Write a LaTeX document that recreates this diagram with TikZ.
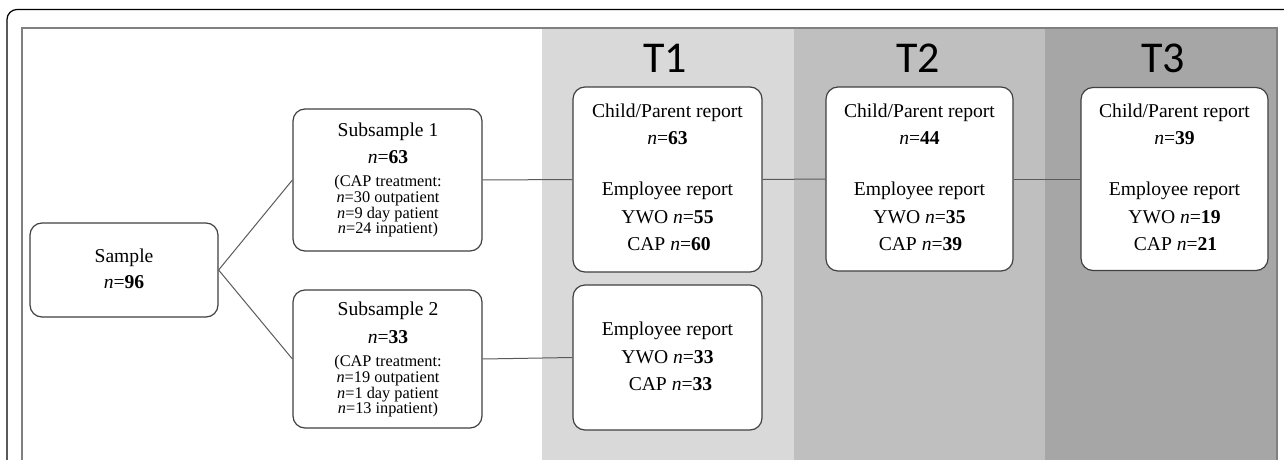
\documentclass[tikz,border=0pt]{standalone}
\usepackage{fontspec}
\setmainfont{Liberation Serif}
\newfontfamily\calib{Carlito}
\definecolor{bandA}{HTML}{D9D9D9}
\definecolor{bandB}{HTML}{BFBFBF}
\definecolor{bandC}{HTML}{A6A6A6}
\definecolor{boxline}{HTML}{404040}
\definecolor{connline}{HTML}{5A5A5A}
\tikzset{
  box/.style={draw=boxline, line width=1.2pt, rounded corners=12pt, fill=white, inner sep=0pt},
  conn/.style={draw=connline, line width=1pt},
  big/.style={font=\fontsize{19.6}{24}\selectfont, anchor=base, inner sep=0pt},
  small/.style={font=\fontsize{16.3}{18}\selectfont, anchor=base, inner sep=0pt},
  tlabel/.style={font=\calib\fontsize{44}{50}\selectfont, anchor=base, inner sep=0pt},
}
\begin{document}
\begin{tikzpicture}[x=1pt,y=-1pt]
\useasboundingbox (0,0) rectangle (1284,460);
\clip (0,0) rectangle (1284,460);
% outer frame
\draw[black, line width=1.2pt, rounded corners=10pt] (7,480) -- (7,9.5) -- (1300,9.5);
% bands
\fill[bandA] (542,28) rectangle (794,470);
\fill[bandB] (794,28) rectangle (1045,470);
\fill[bandC] (1045,28) rectangle (1277,470);
% inner frame
\draw[draw=gray, line width=1.4pt] (22,480) -- (22,28) -- (1277,28) -- (1277,480);
% time labels
\node[tlabel] (lt1) at (665,73) {T1};
\node[tlabel] (lt2) at (918,73) {T2};
\node[tlabel] (lt3) at (1163,73) {T3};
% boxes
\node[box, minimum width=188pt, minimum height=94pt] (sample) at (124,270) {};
\node[box, minimum width=189pt, minimum height=142pt] (sub1) at (387.5,180) {};
\node[box, minimum width=189pt, minimum height=138pt] (sub2) at (387.5,359) {};
\node[box, minimum width=189pt, minimum height=185pt] (t1a) at (667.5,179.5) {};
\node[box, minimum width=189pt, minimum height=145pt] (t1b) at (667.5,357.5) {};
\node[box, minimum width=187pt, minimum height=184pt] (t2) at (919.5,179) {};
\node[box, minimum width=187pt, minimum height=183pt] (t3) at (1174.5,179) {};
% connectors
\draw[conn] (sample.east) -- (sub1.west);
\draw[conn] (sample.east) -- (sub2.west);
\draw[conn] (sub1.east) -- (t1a.west);
\draw[conn] (t1a.east) -- (t2.west);
\draw[conn] (t2.east) -- (t3.west);
\draw[conn] (sub2.east) -- (t1b.west);
% sample text
\node[big] (s1) at (124,262) {Sample};
\node[big] (s2) at (124,288) {\textit{n}=\textbf{96}};
% subsample 1
\node[big] (a1) at (388,136) {Subsample 1};
\node[big] (a2) at (388,163) {\textit{n}=\textbf{63}};
\node[small] (a3) at (388,186) {(CAP treatment:};
\node[small] (a4) at (388,202) {\textit{n}=30 outpatient};
\node[small] (a5) at (388,218) {\textit{n}=9 day patient};
\node[small] (a6) at (388,233.5) {\textit{n}=24 inpatient)};
% subsample 2
\node[big] (b1) at (388,315) {Subsample 2};
\node[big] (b2) at (388,343) {\textit{n}=\textbf{33}};
\node[small] (b3) at (388,366) {(CAP treatment:};
\node[small] (b4) at (388,382) {\textit{n}=19 outpatient};
\node[small] (b5) at (388,398) {\textit{n}=1 day patient};
\node[small] (b6) at (388,413.5) {\textit{n}=13 inpatient)};
% T1 top
\node[big] (c1) at (667.5,117.5) {Child/Parent report};
\node[big] (c2) at (667.5,144.5) {\textit{n}=\textbf{63}};
\node[big] (c3) at (667.5,195) {Employee report};
\node[big] (c4) at (667.5,223) {YWO \textit{n}=\textbf{55}};
\node[big] (c5) at (669,250.5) {CAP \textit{n}=\textbf{60}};
% T1 bottom
\node[big] (d1) at (667.5,335) {Employee report};
\node[big] (d2) at (667.5,363) {YWO \textit{n}=\textbf{33}};
\node[big] (d3) at (670.5,390) {CAP \textit{n}=\textbf{33}};
% T2
\node[big] (e1) at (919.5,117.5) {Child/Parent report};
\node[big] (e2) at (919.5,144.5) {\textit{n}=\textbf{44}};
\node[big] (e3) at (919.5,195) {Employee report};
\node[big] (e4) at (919.5,223) {YWO \textit{n}=\textbf{35}};
\node[big] (e5) at (920.5,250.5) {CAP \textit{n}=\textbf{39}};
% T3
\node[big] (f1) at (1174.5,117.5) {Child/Parent report};
\node[big] (f2) at (1174.5,144.5) {\textit{n}=\textbf{39}};
\node[big] (f3) at (1174.5,195) {Employee report};
\node[big] (f4) at (1174.5,223) {YWO \textit{n}=\textbf{19}};
\node[big] (f5) at (1175.5,250.5) {CAP \textit{n}=\textbf{21}};
\end{tikzpicture}
\end{document}
